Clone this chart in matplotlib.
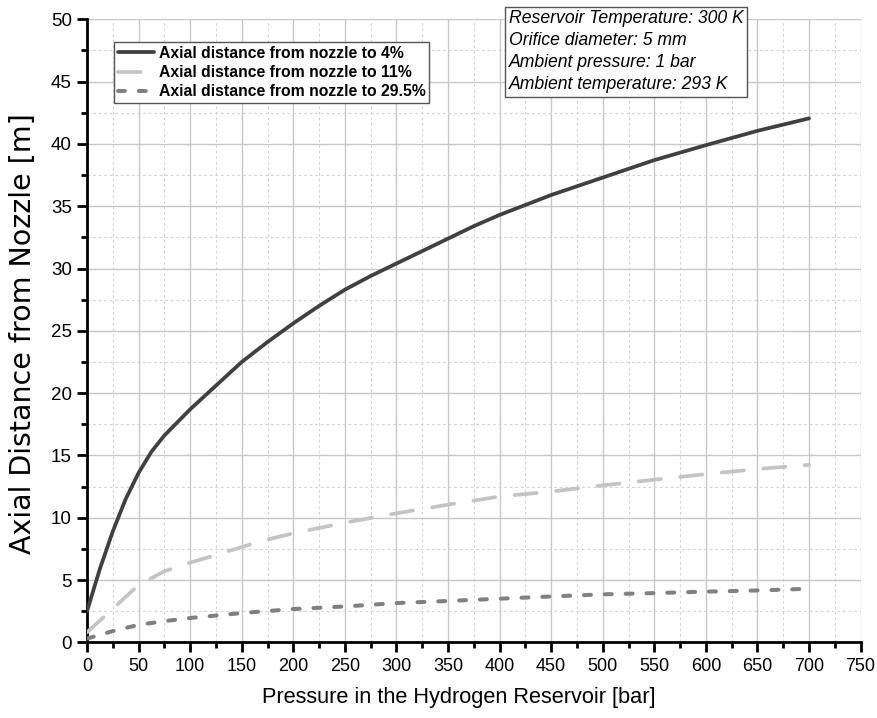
import matplotlib
matplotlib.use("Agg")
import matplotlib.pyplot as plt
from matplotlib.ticker import MultipleLocator

plt.rcParams['font.family'] = ['Liberation Sans', 'DejaVu Sans']
plt.rcParams['lines.scale_dashes'] = False

# Data
p_4 = [0, 12.5, 25, 37.5, 50, 62.5, 75, 100, 125, 150, 175, 200, 225, 250, 275, 300,
       325, 350, 375, 400, 450, 500, 550, 600, 650, 700]
d_4 = [2.5, 5.9, 8.9, 11.5, 13.6, 15.3, 16.6, 18.7, 20.6, 22.5, 24.1, 25.6, 27.0, 28.3, 29.4, 30.4,
       31.4, 32.4, 33.4, 34.3, 35.9, 37.3, 38.7, 39.9, 41.05, 42.05]

p_11 = [0, 25, 50, 75, 100, 125, 150, 175, 200, 250, 300, 350, 400, 450, 500, 550, 600, 650, 700]
d_11 = [0.8, 2.7, 4.6, 5.7, 6.4, 7.0, 7.65, 8.25, 8.75, 9.6, 10.35, 11.05, 11.7, 12.1, 12.6, 13.05, 13.5, 13.9, 14.25]

p_295 = [0, 25, 50, 75, 100, 150, 200, 250, 300, 350, 400, 450, 500, 550, 600, 650, 700]
d_295 = [0.3, 0.9, 1.4, 1.7, 1.95, 2.35, 2.67, 2.88, 3.15, 3.32, 3.5, 3.68, 3.85, 3.95, 4.07, 4.16, 4.3]

labels = ["Axial distance from nozzle to 4%",
          "Axial distance from nozzle to 11%",
          "Axial distance from nozzle to 29.5%"]
info_lines = ["Reservoir Temperature: 300 K",
              "Orifice diameter: 5 mm",
              "Ambient pressure: 1 bar",
              "Ambient temperature: 293 K"]

fig = plt.figure(figsize=(8.77, 7.18), dpi=100)
ax = fig.add_axes([0.0992, 0.1054, 0.8821, 0.8677])

ax.plot(p_4, d_4, color='#404040', lw=2.7, solid_capstyle='round', solid_joinstyle='round',
        label=labels[0], zorder=5)
ax.plot(p_11, d_11, color='#c4c4c4', lw=2.7, dashes=(16, 14), dash_capstyle='round', label=labels[1], zorder=4)
ax.plot(p_295, d_295, color='#808080', lw=2.9, dashes=(5, 10), dash_capstyle='round', label=labels[2], zorder=4)

ax.set_xlim(0, 750)
ax.set_ylim(0, 50)
ax.xaxis.set_major_locator(MultipleLocator(50))
ax.xaxis.set_minor_locator(MultipleLocator(25))
ax.yaxis.set_major_locator(MultipleLocator(5))
ax.yaxis.set_minor_locator(MultipleLocator(2.5))

ax.grid(which='major', color='#c8c8c8', lw=1.0, ls='-')
ax.grid(which='minor', color='#d4d4d4', lw=0.8, ls=(0, (2, 2)))
ax.set_axisbelow(True)

for s in ['top', 'right']:
    ax.spines[s].set_visible(False)
for s in ['left', 'bottom']:
    ax.spines[s].set_linewidth(2.0)
    ax.spines[s].set_color('black')

ax.tick_params(which='major', direction='out', length=7, width=2, pad=4)
ax.tick_params(which='minor', direction='out', length=4.5, width=2)
for t in ax.get_yticklabels():
    t.set_fontsize(13.5)
for t in ax.get_xticklabels():
    t.set_fontsize(13)

ax.set_xlabel("Pressure in the Hydrogen Reservoir [bar]", fontsize=15.7)
ax.xaxis.set_label_coords(0.481, -0.071)
ax.set_ylabel("Axial Distance from Nozzle [m]", fontsize=20.5, family=['DejaVu Sans'])
ax.yaxis.set_label_coords(-0.064, 0.495)

leg = ax.legend(loc='upper left', bbox_to_anchor=(0.035, 0.964), prop={'weight': 'bold', 'size': 11.3},
                frameon=True, fancybox=False, edgecolor='#555555', framealpha=1,
                handlelength=2.3, handletextpad=0.3, labelspacing=0.28, borderpad=0.25, borderaxespad=0)
leg.get_frame().set_linewidth(1.0)

ax.text(0.5455, 1.0145, "\n".join(info_lines), transform=ax.transAxes, fontsize=12.7, style='italic',
        va='top', ha='left', linespacing=1.38,
        bbox=dict(boxstyle='square,pad=0.2', facecolor='white', edgecolor='#555555', lw=1.0))

fig.savefig("out.png", dpi=100)
